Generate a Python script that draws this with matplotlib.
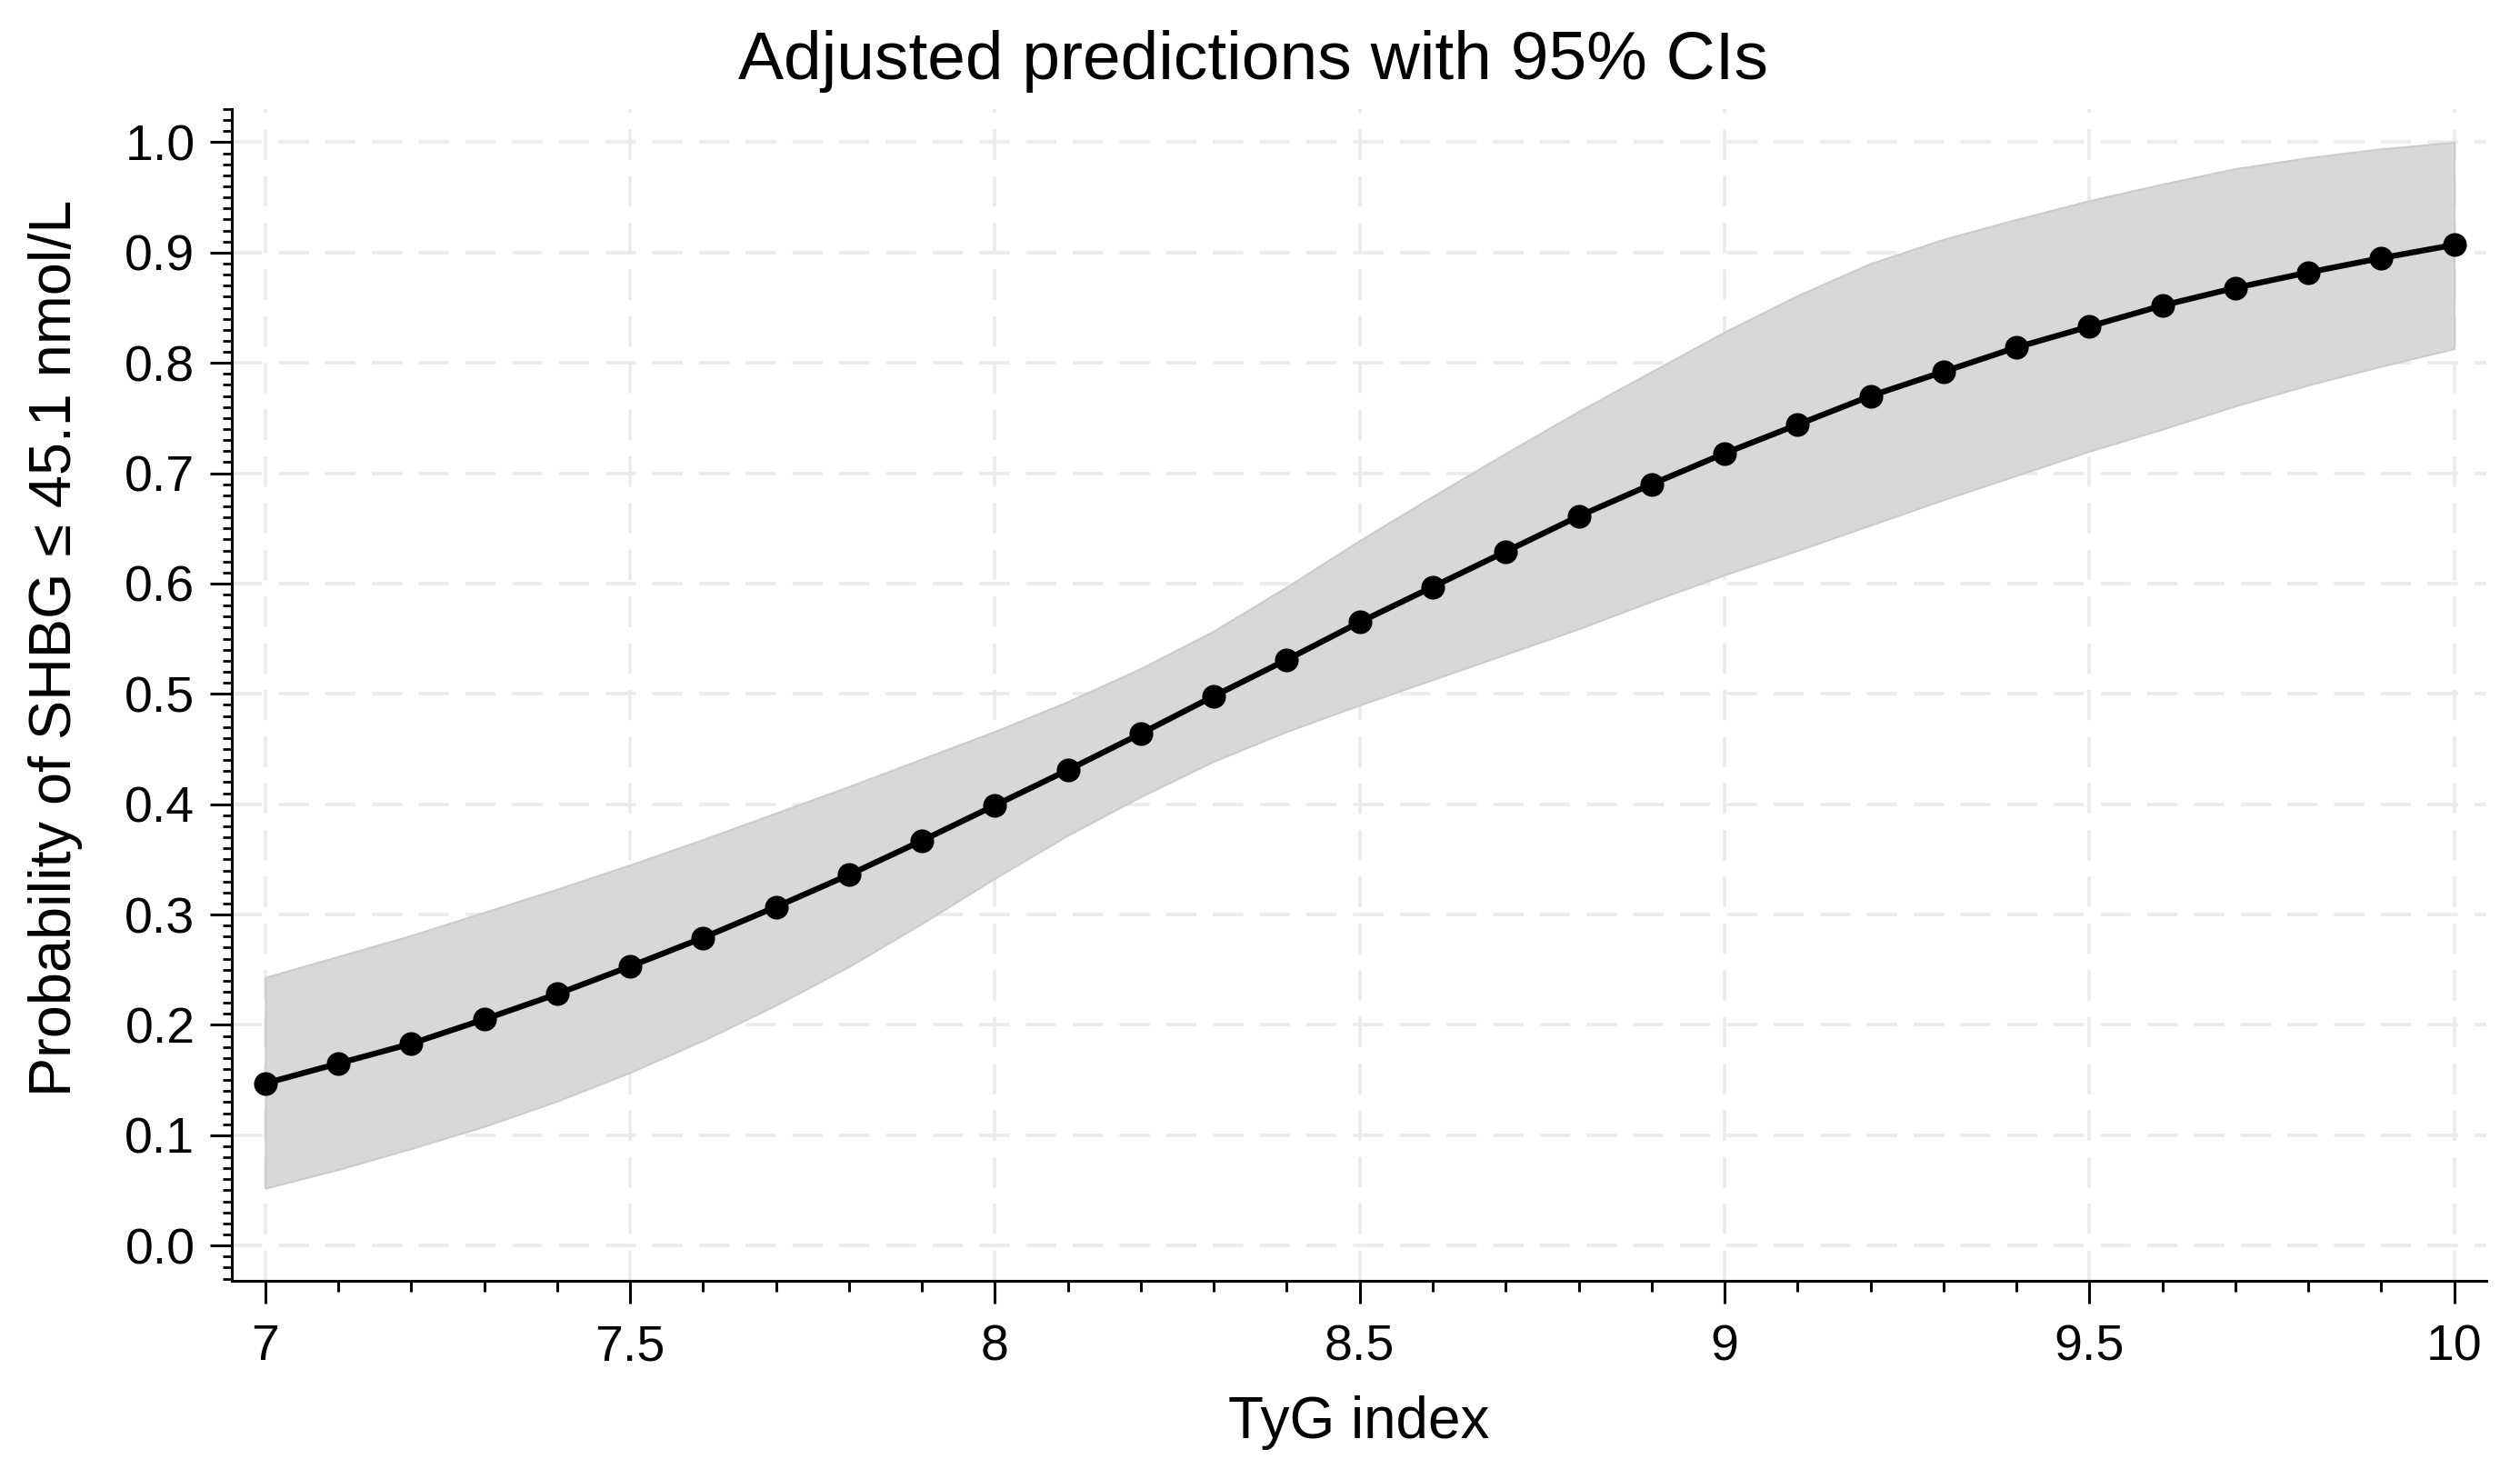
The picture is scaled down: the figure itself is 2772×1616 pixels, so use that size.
import numpy as np
import matplotlib
matplotlib.use("Agg")
import matplotlib.pyplot as plt
from matplotlib.ticker import MultipleLocator, FixedLocator, FuncFormatter

plt.rcParams['font.family'] = ['Liberation Sans', 'DejaVu Sans']
plt.rcParams['lines.scale_dashes'] = False

# ---- data ----
tyg = [7.0, 7.1, 7.2, 7.3, 7.4, 7.5, 7.6, 7.7, 7.8, 7.9, 8.0,
       8.1, 8.2, 8.3, 8.4, 8.5, 8.6, 8.7, 8.8, 8.9, 9.0,
       9.1, 9.2, 9.3, 9.4, 9.5, 9.6, 9.7, 9.8, 9.9, 10.0]
prob = [0.147, 0.165, 0.183, 0.205, 0.228, 0.253, 0.279, 0.307, 0.336, 0.367, 0.399,
        0.431, 0.464, 0.498, 0.531, 0.565, 0.597, 0.629, 0.661, 0.690, 0.718,
        0.744, 0.770, 0.792, 0.814, 0.833, 0.852, 0.868, 0.882, 0.895, 0.907]
ci_upper = [0.243, 0.262, 0.281, 0.302, 0.323, 0.345, 0.368, 0.392, 0.416, 0.441, 0.466,
            0.493, 0.523, 0.557, 0.597, 0.639, 0.679, 0.718, 0.756, 0.792, 0.828,
            0.861, 0.890, 0.912, 0.930, 0.947, 0.962, 0.976, 0.986, 0.994, 1.000]
ci_lower = [0.052, 0.069, 0.088, 0.108, 0.131, 0.157, 0.186, 0.218, 0.253, 0.292, 0.333,
            0.372, 0.407, 0.439, 0.466, 0.490, 0.513, 0.536, 0.559, 0.584, 0.608,
            0.630, 0.653, 0.676, 0.698, 0.720, 0.740, 0.761, 0.780, 0.797, 0.813]
x_major = [7, 7.5, 8, 8.5, 9, 9.5, 10]
x_labels = ["7", "7.5", "8", "8.5", "9", "9.5", "10"]
y_major = [0.0, 0.1, 0.2, 0.3, 0.4, 0.5, 0.6, 0.7, 0.8, 0.9, 1.0]

title = "Adjusted predictions with 95% CIs"
xlabel = "TyG index"
ylabel = "Probability of SHBG \u2264 45.1 nmol/L"

# ---- figure ----
fig = plt.figure(figsize=(13.86, 8.08), dpi=200)
ax = fig.add_axes([0.0920, 0.1281, 0.9866 - 0.0920, 0.9257 - 0.1281])

ax.fill_between(tyg, ci_lower, ci_upper, facecolor='#d8d8d8', edgecolor='#cccccc',
                linewidth=0.8, zorder=2)
ax.plot(tyg, prob, color='black', linewidth=2.3, marker='o', markersize=8.4, zorder=3)

ax.set_xlim(6.954, 10.044)
ax.set_ylim(-0.032, 1.03)

ax.xaxis.set_major_locator(FixedLocator(x_major))
ax.set_xticklabels(x_labels)
ax.xaxis.set_minor_locator(MultipleLocator(0.1))
ax.yaxis.set_major_locator(FixedLocator(y_major))
ax.yaxis.set_major_formatter(FuncFormatter(lambda v, p: f"{v:.1f}"))
ax.yaxis.set_minor_locator(MultipleLocator(0.01))

for s in ['top', 'right']:
    ax.spines[s].set_visible(False)
for s in ['left', 'bottom']:
    ax.spines[s].set_linewidth(1.1)

ax.tick_params(axis='both', which='major', direction='out', width=1.1, labelsize=20)
ax.tick_params(axis='x', which='major', length=9, pad=8)
ax.tick_params(axis='x', which='minor', length=4.3, width=1.1)
ax.tick_params(axis='y', which='major', length=8.6, pad=6)
ax.tick_params(axis='y', which='minor', length=3.6, width=1.0)

ax.grid(True, which='major', color='#ebebeb', linewidth=1.3, linestyle=(0, (12, 6.5)), zorder=0)
ax.set_axisbelow(True)

ax.set_title(title, fontsize=27, pad=12, x=0.453)
ax.set_xlabel(xlabel, fontsize=23)
ax.set_ylabel(ylabel, fontsize=23.3)
ax.xaxis.set_label_coords(0.5, -0.098)
ax.yaxis.set_label_coords(-0.066, 0.54)

fig.savefig("out.png", dpi=200, facecolor='white')
